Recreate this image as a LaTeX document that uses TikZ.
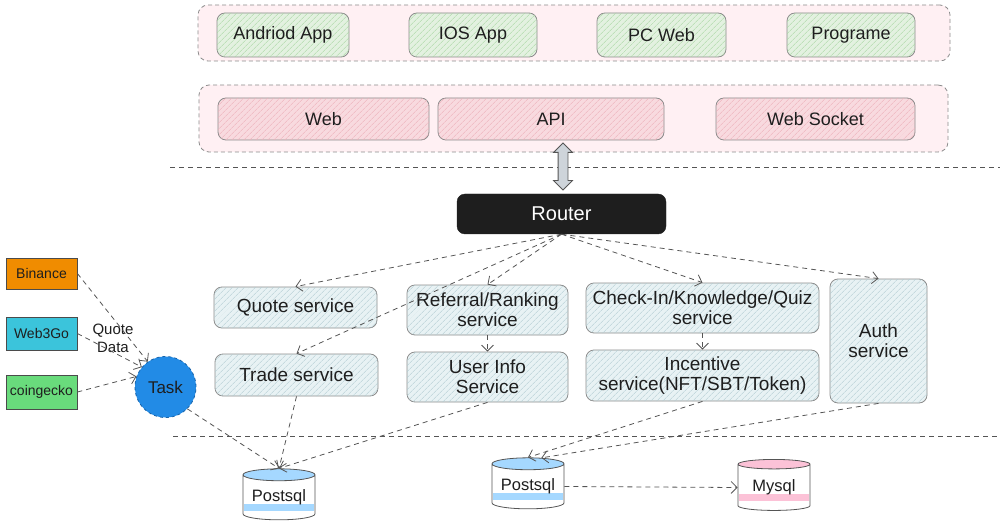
\documentclass[tikz,border=0pt]{standalone}
\usepackage{fontspec}
\setmainfont{Liberation Sans}
\usetikzlibrary{arrows.meta,shapes.geometric,shapes.arrows,patterns.meta}
\definecolor{SkInk}{HTML}{1E1E1E}
\definecolor{SkLine}{HTML}{555555}
\definecolor{SkEdge}{HTML}{8C8C8C}
\definecolor{SkFrame}{HTML}{FFF0F3}
\definecolor{SkGreen}{HTML}{E3F1E0}
\definecolor{SkGreenHatch}{HTML}{A9D7A3}
\definecolor{SkRose}{HTML}{F8DADF}
\definecolor{SkRoseHatch}{HTML}{EDB0BA}
\definecolor{SkMist}{HTML}{E8F2F4}
\definecolor{SkMistHatch}{HTML}{B3CDD3}
\definecolor{SkOrange}{HTML}{F08C00}
\definecolor{SkCyan}{HTML}{3BC4DB}
\definecolor{SkLime}{HTML}{69DB7C}
\definecolor{SkBlue}{HTML}{228BE6}
\definecolor{SkBlueDark}{HTML}{1864AB}
\definecolor{SkSky}{HTML}{A5D8FF}
\definecolor{SkPinkDb}{HTML}{FCC2D7}
\definecolor{SkArrowGray}{HTML}{CED4DA}
\tikzset{
  framebox/.style={draw=SkEdge, dashed, dash pattern=on 4pt off 3pt, rounded corners=10pt,
                   fill=SkFrame, line width=0.8pt},
  hatched/.style 2 args={fill=#1, postaction={pattern={Lines[angle=45,distance=4pt,line width=0.6pt]},
                         pattern color=#2}},
  clientbox/.style={draw=SkEdge, rounded corners=8pt, line width=0.8pt, hatched={SkGreen}{SkGreenHatch},
                    font=\fontsize{18}{20}\selectfont\color{SkInk}, minimum height=44pt, inner sep=0pt},
  gatebox/.style={draw=SkEdge, rounded corners=8pt, line width=0.8pt, hatched={SkRose}{SkRoseHatch},
                  font=\fontsize{18}{20}\selectfont\color{SkInk}, minimum height=42pt, inner sep=0pt},
  svcbox/.style={draw=SkEdge, rounded corners=8pt, line width=0.8pt, hatched={SkMist}{SkMistHatch},
                 font=\fontsize{19}{20}\selectfont\color{SkInk}, align=center, inner sep=0pt},
  routerbox/.style={draw=SkInk, fill=SkInk, rounded corners=8pt, font=\fontsize{20}{22}\selectfont\color{white},
                    minimum width=209pt, minimum height=40pt},
  srcbox/.style={draw=SkInk!80, line width=0.8pt, font=\fontsize{14}{16}\selectfont\color{SkInk},
                 minimum width=71pt, inner sep=0pt},
  taskcircle/.style={circle, fill=SkBlue, draw=SkBlueDark, dashed, line width=0.8pt, minimum size=61pt,
                     inner sep=0pt, font=\fontsize{17}{18}\selectfont\color{SkInk}},
  dbcyl/.style={cylinder, shape border rotate=90, aspect=0.22, draw=SkLine, line width=0.8pt,
                cylinder uses custom fill, cylinder end fill=#1, cylinder body fill=white,
                minimum width=72pt, minimum height=51pt, inner sep=0pt,
                font=\fontsize{16.5}{18}\selectfont\color{SkInk},
                path picture={\fill[#1] ([xshift=1pt,yshift=9pt]path picture bounding box.south west)
                              rectangle ([xshift=-1pt,yshift=16pt]path picture bounding box.south east);}},
  updown/.style={double arrow, shape border rotate=90, fill=SkArrowGray, draw=SkLine, line width=0.8pt,
                 minimum height=47pt, inner sep=4.5pt, double arrow head extend=4.5pt},
  flow/.style={-{Straight Barb[length=6pt,width=12pt]}, dash pattern=on 5pt off 4pt, line width=0.8pt, SkLine},
  sepline/.style={dash pattern=on 5pt off 4pt, line width=0.8pt, SkLine},
  note/.style={font=\fontsize{15}{18}\selectfont\color{SkInk}, align=center},
}

\begin{document}
\begin{tikzpicture}[x=1pt, y=-1pt]
  \useasboundingbox (0,0) rectangle (1000,529);

  % ---- Client layer ----
  \node[framebox, minimum width=752pt, minimum height=56pt] (clients) at (574,33) {};
  \node[clientbox, minimum width=132pt] (android) at (283,35)   {Andriod App};
  \node[clientbox, minimum width=128pt] (ios)     at (473,35)   {IOS App};
  \node[clientbox, minimum width=129pt] (pcweb)   at (661.5,35) {PC Web};
  \node[clientbox, minimum width=128pt] (program) at (851,35)   {Programe};

  % ---- Gateway layer ----
  \node[framebox, minimum width=749pt, minimum height=67pt] (gateway) at (573.5,118.5) {};
  \node[gatebox, minimum width=211pt] (web)    at (323.5,119) {Web};
  \node[gatebox, minimum width=226pt] (api)    at (551,119)   {API};
  \node[gatebox, minimum width=199pt] (socket) at (815.5,119) {Web Socket};

  \draw[sepline] (170,167) -- (1000,167);
  \node[updown] (link) at (563,166.5) {};

  % ---- Router and services ----
  \node[routerbox] (router) at (561.5,214) {Router};
  \node[svcbox, minimum width=163pt, minimum height=41pt] (quote)     at (295.5,307.5) {Quote service};
  \node[svcbox, minimum width=163pt, minimum height=42pt] (trade)     at (296.5,375)   {Trade service};
  \node[svcbox, minimum width=161pt, minimum height=50pt] (referral)  at (487.5,310)   {Referral/Ranking\\service};
  \node[svcbox, minimum width=161pt, minimum height=50pt] (userinfo)  at (487.5,377)   {User Info\\Service};
  \node[svcbox, minimum width=233pt, minimum height=50pt] (checkin)   at (702.5,308)   {Check-In/Knowledge/Quiz\\service};
  \node[svcbox, minimum width=233pt, minimum height=51pt] (incentive) at (702.5,375.5) {Incentive\\service(NFT/SBT/Token)};
  \node[svcbox, minimum width=97pt, minimum height=124pt] (auth)      at (878.5,341)   {Auth\\service};

  % ---- Quote sources ----
  \node[srcbox, fill=SkOrange, minimum height=31pt] (binance)   at (41.5,273.5) {Binance};
  \node[srcbox, fill=SkCyan,   minimum height=33pt] (web3go)    at (41.5,333.5) {Web3Go};
  \node[srcbox, fill=SkLime,   minimum height=34pt] (coingecko) at (41.5,392)   {coingecko};
  \node[taskcircle] (task) at (165.5,387) {Task};
  \node[note] (quotedata) at (113,338) {Quote\\Data};

  \draw[sepline] (173,436) -- (1000,436);

  % ---- Storage ----
  \node[dbcyl=SkSky]    (pg1)   at (279,497.5) {Postsql};
  \node[dbcyl=SkSky]    (pg2)   at (528,486.5) {Postsql};
  \node[dbcyl=SkPinkDb] (mysql) at (774,487.5) {Mysql};

  % ---- Arrows ----
  \draw[flow] (router.south) -- (quote.north);
  \draw[flow] (router.south) -- (trade.north);
  \draw[flow] (router.south) -- (referral.north);
  \draw[flow] (router.south) -- (checkin.north);
  \draw[flow] (router.south) -- (auth.north);
  \draw[flow] (referral.south) -- (userinfo.north);
  \draw[flow] (checkin.south) -- (incentive.north);
  \draw[flow] (binance.east) -- (task.125);
  \draw[flow] (web3go.east) -- (task.140);
  \draw[flow] (coingecko.east) -- (task.160);
  \draw[flow] (task.-45) -- (pg1.north);
  \draw[flow] (trade.south) -- (pg1.north);
  \draw[flow] (userinfo.south) -- (pg1.north);
  \draw[flow] (incentive.south) -- (pg2.north);
  \draw[flow] (auth.south) -- (pg2.65);
  \draw[flow] (pg2.east) -- (mysql.west);

\end{tikzpicture}
\end{document}
